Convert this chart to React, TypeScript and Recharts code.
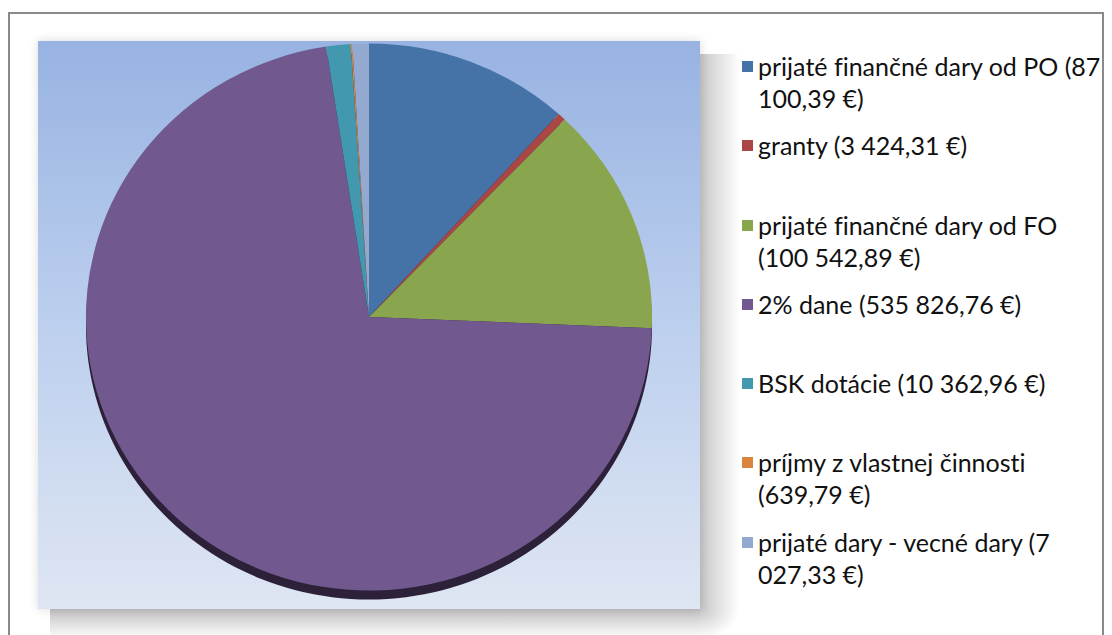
import { PieChart, Pie, Cell, Legend } from "recharts";

const labels = [
  "prijaté finančné dary od PO (87 100,39 €)",
  "granty (3 424,31 €)",
  "prijaté finančné dary od FO (100 542,89 €)",
  "2% dane (535 826,76 €)",
  "BSK dotácie (10 362,96 €)",
  "príjmy z vlastnej činnosti (639,79 €)",
  "prijaté dary - vecné dary (7 027,33 €)",
];
const values = [87100.39, 3424.31, 100542.89, 535826.76, 10362.96, 639.79, 7027.33];
const colors = ["#4572a7", "#aa4643", "#89a54e", "#71588f", "#4198af", "#db843d", "#93a9cf"];

const data = labels.map((name, i) => ({ name, value: values[i] }));
const total = [{ name: "edge", value: values.reduce((a, b) => a + b, 0) }];

// legend drawn from our own arrays so the order stays as in the data
function LegendBox() {
  return (
    <div
      style={{
        fontFamily: "Lato, sans-serif",
        fontSize: 25,
        color: "#111",
        fontVariantLigatures: "none",
      }}
    >
      {labels.map((label, i) => (
        <div key={i} style={{ height: 79.3, display: "flex", alignItems: "flex-start" }}>
          <span
            style={{
              width: 11,
              height: 11,
              background: colors[i],
              marginTop: 11,
              marginRight: 5,
              flex: "0 0 11px",
            }}
          />
          <span style={{ lineHeight: "32px", width: 348 }}>{label}</span>
        </div>
      ))}
    </div>
  );
}

const abs = (s: any) => ({ position: "absolute" as const, ...s });

export default function App() {
  return (
    <div
      style={{
        position: "relative",
        marginTop: 4,
        width: 1092,
        height: 640,
        border: "2px solid #8a8a8a",
        background: "#fff",
        overflow: "hidden",
      }}
    >
      {/* class lands on nested groups too, so the squash is applied twice */}
      <style>{`
        .pie3d { transform-origin: 359px 303px; transform: scale(1.009, 0.992); }
        .pie3d-edge { transform-origin: 359px 312px; transform: scale(1.009, 0.992); }
      `}</style>
      {/* shadow to the right of and below the plot area */}
      <div style={abs({ left: 690, top: 40, width: 40, height: 555, background: "linear-gradient(90deg, rgba(0,0,0,0.22), rgba(0,0,0,0))" })} />
      <div style={abs({ left: 40, top: 595, width: 650, height: 30, background: "linear-gradient(180deg, rgba(0,0,0,0.24), rgba(0,0,0,0))" })} />
      <div style={abs({ left: 690, top: 595, width: 40, height: 30, background: "radial-gradient(ellipse at top left, rgba(0,0,0,0.22), rgba(0,0,0,0) 70%)" })} />
      <div
        style={{
          position: "absolute",
          left: 28,
          top: 27,
          width: 662,
          height: 568,
          background: "linear-gradient(180deg, #98b3e2 0%, #bccfee 50%, #dfe6f3 100%)",
          boxShadow: "0 0 10px rgba(0,0,0,0.15)",
        }}
      />
      <div style={{ position: "absolute", left: 0, top: 0 }}>
        <PieChart width={1092} height={620} margin={{ top: 0, right: 0, bottom: 0, left: 0 }}>
          <Pie
            className="pie3d-edge"
            data={total}
            dataKey="value"
            cx={359}
            cy={312}
            outerRadius={278}
            startAngle={90}
            endAngle={-270}
            stroke="none"
            fill="#2d2139"
            legendType="none"
            isAnimationActive={false}
          />
          <Pie
            className="pie3d"
            data={data}
            dataKey="value"
            nameKey="name"
            cx={359}
            cy={303}
            outerRadius={278}
            startAngle={90}
            endAngle={-270}
            stroke="none"
            isAnimationActive={false}
          >
            {data.map((_, i) => (
              <Cell key={i} fill={colors[i]} />
            ))}
          </Pie>
          <Legend
            layout="vertical"
            align="right"
            verticalAlign="top"
            content={<LegendBox />}
            wrapperStyle={{ left: 732, top: 36, width: 360, right: "auto" }}
          />
        </PieChart>
      </div>
    </div>
  );
}
